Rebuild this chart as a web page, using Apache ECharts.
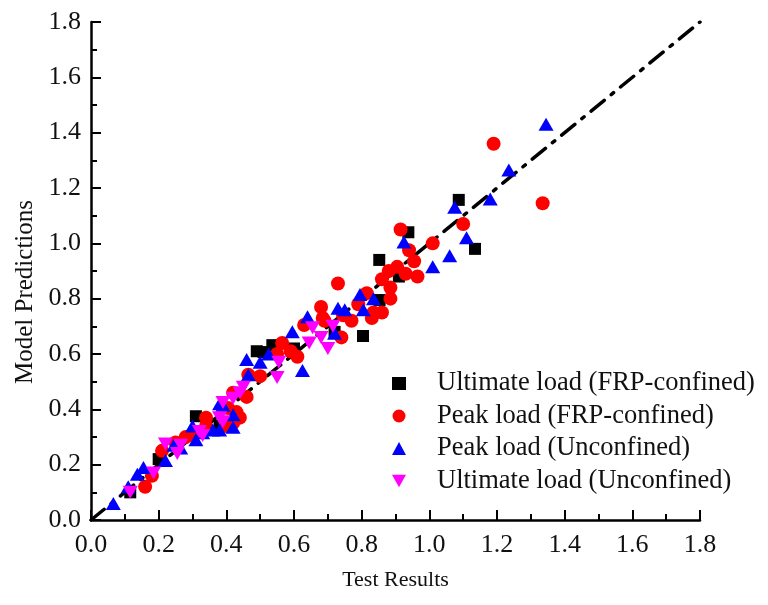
<!DOCTYPE html>
<html>
<head>
<meta charset="utf-8">
<script src="https://cdn.jsdelivr.net/npm/echarts@6/dist/echarts.min.js"></script>
<style>html,body{margin:0;padding:0;background:#fff}#c{width:768px;height:605px}</style>
</head>
<body>
<div id="c"></div>
<script>
var seriesNames = ['Ultimate load (FRP-confined)', 'Peak load (FRP-confined)', 'Peak load (Unconfined)', 'Ultimate load (Unconfined)'];
var axisTicks = [0.0, 0.2, 0.4, 0.6, 0.8, 1.0, 1.2, 1.4, 1.6, 1.8];
var refLine = [[0, 0], [1.8, 1.8]];

var ultimateFRP = [
[0.116,0.10],[0.20,0.22],[0.31,0.375],[0.38,0.34],[0.49,0.61],[0.51,0.607],[0.536,0.632],[0.60,0.62],
[0.72,0.68],[0.804,0.665],[0.853,0.795],[0.852,0.94],[0.91,0.88],[0.938,1.04],[1.087,1.157],[1.135,0.98]
];
var peakFRP = [
[0.16,0.12],[0.18,0.16],[0.21,0.25],[0.25,0.28],[0.28,0.30],[0.30,0.31],[0.34,0.34],[0.34,0.37],[0.40,0.34],
[0.405,0.405],[0.42,0.35],[0.43,0.39],[0.42,0.46],[0.44,0.37],[0.46,0.445],[0.465,0.525],[0.50,0.52],[0.55,0.60],
[0.565,0.64],[0.59,0.61],[0.61,0.59],[0.63,0.705],[0.68,0.77],[0.685,0.73],[0.69,0.72],[0.73,0.855],[0.74,0.66],
[0.745,0.74],[0.77,0.72],[0.79,0.78],[0.815,0.82],[0.83,0.73],[0.835,0.75],[0.86,0.75],[0.86,0.87],[0.88,0.90],
[0.885,0.80],[0.885,0.84],[0.905,0.915],[0.915,1.05],[0.93,0.89],[0.94,0.975],[0.955,0.935],[0.965,0.88],
[1.01,1.0],[1.10,1.07],[1.19,1.36],[1.335,1.145]
];
var peakUnconf = [
[0.066,0.06],[0.11,0.12],[0.137,0.165],[0.155,0.19],[0.22,0.215],[0.245,0.27],[0.265,0.26],[0.30,0.34],[0.31,0.29],
[0.33,0.315],[0.36,0.325],[0.38,0.325],[0.39,0.415],[0.38,0.42],[0.42,0.38],[0.42,0.335],[0.46,0.58],[0.465,0.525],
[0.50,0.57],[0.525,0.60],[0.595,0.68],[0.625,0.54],[0.64,0.735],[0.72,0.675],[0.73,0.765],[0.75,0.76],[0.795,0.815],
[0.805,0.76],[0.835,0.80],[0.925,1.005],[1.01,0.915],[1.06,0.955],[1.075,1.13],[1.11,1.02],[1.18,1.16],[1.235,1.265],[1.345,1.43]
];
var ultimateUnconf = [
[0.116,0.10],[0.185,0.17],[0.22,0.275],[0.255,0.24],[0.265,0.27],[0.32,0.32],[0.33,0.305],[0.38,0.37],[0.39,0.355],
[0.39,0.425],[0.42,0.44],[0.44,0.46],[0.45,0.48],[0.55,0.515],[0.555,0.57],[0.645,0.64],[0.655,0.695],[0.68,0.66],
[0.70,0.62],[0.715,0.70]
];

var FONT = '"Liberation Serif", "Times New Roman", serif';
var downTri = 'path://M0,0 L10,0 L5,9 Z';

function axisCfg(isX) {
  return {
    type: 'value', min: 0, max: 1.8, interval: 0.2,
    name: isX ? 'Test Results' : 'Model Predictions',
    nameLocation: 'middle',
    nameGap: isX ? 49 : 40,
    nameTextStyle: isX
      ? { fontFamily: FONT, fontSize: 22, color: '#111' }
      : { fontFamily: FONT, fontSize: 25, color: '#111', padding: [0, 42, 0, 0] },
    axisLine: { show: true, onZero: false, lineStyle: { color: '#000', width: 2.5 } },
    axisTick: { show: true, inside: true, length: 10, lineStyle: { color: '#000', width: 2 } },
    minorTick: { show: true, splitNumber: 2, length: 6, lineStyle: { color: '#000', width: 2 } },
    splitLine: { show: false },
    axisLabel: {
      fontFamily: FONT, fontSize: 26, color: '#111', margin: isX ? 12 : 10,
      formatter: function (v) {
        for (var i = 0; i < axisTicks.length; i++) { if (Math.abs(axisTicks[i] - v) < 1e-6) return axisTicks[i].toFixed(1); }
        return '';
      }
    }
  };
}

var chart = echarts.init(document.getElementById('c'), null, { renderer: 'canvas' });
chart.setOption({
  animation: false,
  backgroundColor: '#fff',
  grid: { left: 91, right: 68, top: 22, bottom: 85, containLabel: false },
  xAxis: axisCfg(true),
  yAxis: axisCfg(false),
  legend: {
    orient: 'vertical', left: 387, top: 365,
    itemWidth: 14, itemHeight: 13, itemGap: 5.5,
    textStyle: { fontFamily: FONT, fontSize: 26.5, color: '#111', lineHeight: 26, padding: [0, 0, 0, 26] },
    data: [
      { name: seriesNames[0], icon: 'rect', itemStyle: { color: '#000' } },
      { name: seriesNames[1], icon: 'circle' },
      { name: seriesNames[2], icon: 'triangle' },
      { name: seriesNames[3], icon: downTri }
    ]
  },
  series: [
    { name: 'ref', type: 'line', data: refLine, symbol: 'none', z: 1,
      lineStyle: { color: '#000', width: 3.5, type: [17, 9, 3, 9], cap: 'round' }, silent: true },
    { name: seriesNames[0], type: 'scatter', data: ultimateFRP, symbol: 'rect', symbolSize: 12, itemStyle: { color: '#000', opacity: 1 }, z: 2 },
    { name: seriesNames[1], type: 'scatter', data: peakFRP, symbol: 'circle', symbolSize: 14, itemStyle: { color: '#ff0000', opacity: 1 }, z: 2 },
    { name: seriesNames[2], type: 'scatter', data: peakUnconf, symbol: 'triangle', symbolSize: [15, 13], itemStyle: { color: '#0000ff', opacity: 1 }, z: 2 },
    { name: seriesNames[3], type: 'scatter', data: ultimateUnconf, symbol: downTri, symbolSize: [15, 13], itemStyle: { color: '#ff00ff', opacity: 1 }, z: 2 }
  ]
});
</script>
</body>
</html>
